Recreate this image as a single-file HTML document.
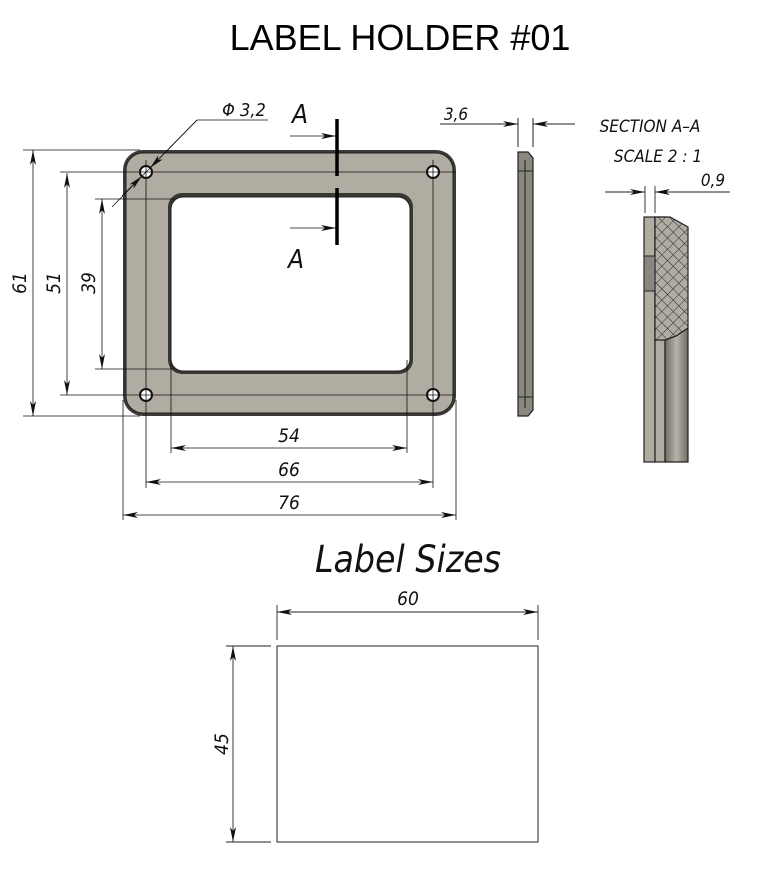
<!DOCTYPE html>
<html><head><meta charset="utf-8"><style>
html,body{margin:0;padding:0;background:#fff;}
svg{display:block}
.t{font-family:"Liberation Sans Narrow","DejaVu Sans Condensed","Liberation Sans",sans-serif;font-style:italic;fill:#111;}
</style></head><body>
<svg width="763" height="895" viewBox="0 0 763 895" xmlns="http://www.w3.org/2000/svg">
<defs>
<marker id="a" markerWidth="16" markerHeight="6" refX="15" refY="3" orient="auto-start-reverse" markerUnits="userSpaceOnUse">
<path d="M0,0 L15,3 L0,6 L4,3 Z" fill="#111"/></marker>
<pattern id="h" width="8" height="8" patternUnits="userSpaceOnUse" patternTransform="rotate(45)">
<rect width="8" height="8" fill="#b0aca2"/><path d="M0,0 V8 M0,0 H8" stroke="#222" stroke-width="0.9"/></pattern>
<linearGradient id="g" x1="0" x2="1"><stop offset="0" stop-color="#6e6b64"/><stop offset="0.5" stop-color="#b8b4a9"/><stop offset="1" stop-color="#6e6b64"/></linearGradient>
</defs>
<text x="400" y="50" text-anchor="middle" font-family="Liberation Sans, sans-serif" font-size="36" fill="#000">LABEL HOLDER #01</text>

<!-- frame -->
<rect x="123" y="150" width="333" height="266" rx="20" fill="#3c3a36"/>
<rect x="126" y="153" width="327" height="260" rx="17" fill="#b0aca1" stroke="#222" stroke-width="1"/>
<rect x="168" y="193" width="245" height="181" rx="14" fill="#3a3835"/>
<rect x="171" y="197" width="239" height="174" rx="12" fill="#fff" stroke="#222" stroke-width="1"/>
<g fill="#fff" stroke="#111" stroke-width="2">
<circle cx="146" cy="172" r="6"/><circle cx="433" cy="172" r="6"/>
<circle cx="146" cy="395" r="6"/><circle cx="433" cy="395" r="6"/></g>

<!-- centerlines/extension -->
<g stroke="#111" stroke-width="0.8" fill="none">
<line x1="23" y1="150" x2="140" y2="150"/>
<line x1="23" y1="416" x2="140" y2="416"/>
<line x1="60" y1="172" x2="455" y2="172"/>
<line x1="60" y1="395" x2="455" y2="395"/>
<line x1="95" y1="199" x2="175" y2="199"/>
<line x1="95" y1="369" x2="175" y2="369"/>
<line x1="123" y1="400" x2="123" y2="520"/>
<line x1="456" y1="400" x2="456" y2="520"/>
<line x1="146" y1="160" x2="146" y2="488"/>
<line x1="433" y1="160" x2="433" y2="488"/>
<line x1="171" y1="360" x2="171" y2="453"/>
<line x1="407" y1="360" x2="407" y2="453"/>
<line x1="33" y1="150" x2="33" y2="416" marker-start="url(#a)" marker-end="url(#a)"/>
<line x1="67" y1="173" x2="67" y2="395" marker-start="url(#a)" marker-end="url(#a)"/>
<line x1="102" y1="199" x2="102" y2="369" marker-start="url(#a)" marker-end="url(#a)"/>
<line x1="171" y1="448" x2="407" y2="448" marker-start="url(#a)" marker-end="url(#a)"/>
<line x1="146" y1="482" x2="433" y2="482" marker-start="url(#a)" marker-end="url(#a)"/>
<line x1="123" y1="515" x2="456" y2="515" marker-start="url(#a)" marker-end="url(#a)"/>
<line x1="112" y1="207" x2="150" y2="168"/>
<line x1="150" y1="168" x2="197" y2="120"/>
<line x1="197" y1="120" x2="268" y2="120"/>
<line x1="197" y1="120" x2="150" y2="168" marker-end="url(#a)"/>
<line x1="122" y1="196" x2="142" y2="176" marker-end="url(#a)"/>
<line x1="290" y1="136" x2="336" y2="136" marker-end="url(#a)"/>
<line x1="290" y1="228" x2="336" y2="228" marker-end="url(#a)"/>
</g>
<g stroke="#000" stroke-width="3.5"><line x1="337" y1="119" x2="337" y2="176"/><line x1="337" y1="188" x2="337" y2="245"/></g>
<text class="t" x="300" y="123" font-size="26" text-anchor="middle">A</text>
<text class="t" x="296" y="268" font-size="26" text-anchor="middle">A</text>
<text class="t" x="244" y="116" font-size="18" text-anchor="middle">Φ 3,2</text>
<text class="t" x="289" y="442" font-size="19" text-anchor="middle">54</text>
<text class="t" x="289" y="476" font-size="19" text-anchor="middle">66</text>
<text class="t" x="289" y="509" font-size="19" text-anchor="middle">76</text>
<text class="t" font-size="19" text-anchor="middle" transform="translate(26,283) rotate(-90)">61</text>
<text class="t" font-size="19" text-anchor="middle" transform="translate(60,283) rotate(-90)">51</text>
<text class="t" font-size="19" text-anchor="middle" transform="translate(95,283) rotate(-90)">39</text>

<!-- side view -->
<path d="M518,152 L528,152 L533,158 L533,410 L528,416 L518,416 Z" fill="#8a877f" stroke="#222" stroke-width="1.2"/>
<g stroke="#222" stroke-width="1" fill="none">
<line x1="525" y1="160" x2="525" y2="408"/>
<line x1="518" y1="171" x2="533" y2="171"/>
<line x1="518" y1="397" x2="533" y2="397"/>
<line x1="518" y1="118" x2="518" y2="147"/>
<line x1="533" y1="118" x2="533" y2="147"/>
<line x1="440" y1="124" x2="518" y2="124" marker-end="url(#a)"/>
<line x1="575" y1="124" x2="533" y2="124" marker-end="url(#a)"/>
</g>
<text class="t" x="456" y="120" font-size="17" text-anchor="middle">3,6</text>

<!-- section -->
<text class="t" x="650" y="132" font-size="17" text-anchor="middle">SECTION A–A</text>
<text class="t" x="658" y="162" font-size="17" text-anchor="middle">SCALE 2 : 1</text>
<text class="t" x="713" y="186" font-size="17" text-anchor="middle">0,9</text>
<rect x="644" y="217" width="11" height="245" fill="#b0aca2" stroke="#222" stroke-width="1.2"/>
<rect x="655" y="217" width="10" height="245" fill="#b0aca2" stroke="#222" stroke-width="1.2"/>
<path d="M665,340 L676,336 L688,328 L688,462 L665,462 Z" fill="url(#g)" stroke="#222" stroke-width="1.2"/>
<path d="M655,217 L670,217 L688,227 L688,328 L676,336 L665,340 L655,340 Z" fill="url(#h)" stroke="#222" stroke-width="1.2"/>
<rect x="644" y="256" width="11" height="35" fill="#8a877f" stroke="#222" stroke-width="1"/>
<g stroke="#222" stroke-width="0.9" fill="none">
<line x1="645" y1="186" x2="645" y2="213"/>
<line x1="655" y1="186" x2="655" y2="213"/>
<line x1="605" y1="192" x2="645" y2="192" marker-end="url(#a)"/>
<line x1="730" y1="192" x2="655" y2="192" marker-end="url(#a)"/>
</g>

<!-- label sizes -->
<text class="t" x="408" y="572" font-size="37" text-anchor="middle">Label Sizes</text>
<rect x="277" y="646" width="261" height="196" fill="none" stroke="#222" stroke-width="1"/>
<g stroke="#222" stroke-width="0.9" fill="none">
<line x1="277" y1="605" x2="277" y2="640"/>
<line x1="538" y1="605" x2="538" y2="640"/>
<line x1="277" y1="612" x2="538" y2="612" marker-start="url(#a)" marker-end="url(#a)"/>
<line x1="226" y1="646" x2="271" y2="646"/>
<line x1="226" y1="842" x2="271" y2="842"/>
<line x1="233" y1="646" x2="233" y2="842" marker-start="url(#a)" marker-end="url(#a)"/>
</g>
<text class="t" x="408" y="605" font-size="19" text-anchor="middle">60</text>
<text class="t" font-size="19" text-anchor="middle" transform="translate(228,744) rotate(-90)">45</text>
</svg>
</body></html>
